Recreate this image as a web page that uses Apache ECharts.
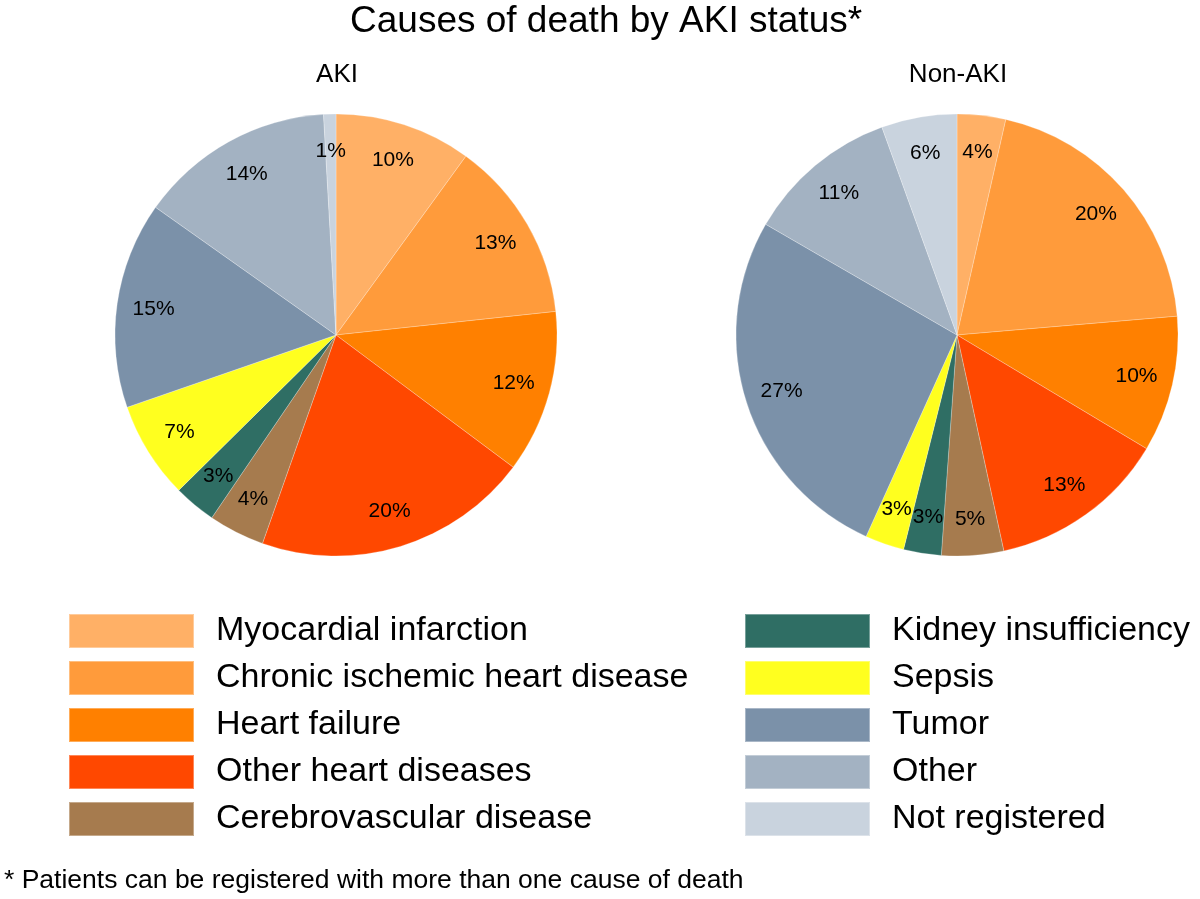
<!DOCTYPE html>
<html><head><meta charset="utf-8">
<script src="https://cdn.jsdelivr.net/npm/echarts@6/dist/echarts.min.js"></script>
<style>html,body{margin:0;padding:0;background:#fff}#chart{width:1200px;height:899px}</style>
</head><body><div id="chart"></div>
<script>
const chartTitle = 'Causes of death by AKI status*';
const panelTitles = ['AKI', 'Non-AKI'];
const footnote = '* Patients can be registered with more than one cause of death';
const categories = ['Myocardial infarction', 'Chronic ischemic heart disease', 'Heart failure',
  'Other heart diseases', 'Cerebrovascular disease', 'Kidney insufficiency', 'Sepsis',
  'Tumor', 'Other', 'Not registered'];
const colors = ['#FFB066', '#FF9B3B', '#FF8000', '#FF4800', '#A67B4E', '#2F6E64', '#FFFF1F',
  '#7B91A9', '#A3B2C2', '#C9D3DE'];
const akiValues = [10.0, 13.3, 11.9, 20.2, 4.1, 3.1, 7.1, 15.1, 14.3, 0.9];
const nonAkiValues = [3.6, 20.4, 10.1, 13.2, 4.6, 2.8, 2.9, 27.0, 11.3, 5.6];

const FONT = '"Liberation Sans", Arial, sans-serif';
const R = 221;

function makeSeries(values, center) {
  const data = categories.map((c, i) => ({ name: c, value: values[i], itemStyle: { color: colors[i] } }));
  return [
    {
      type: 'pie', center: center, radius: R, startAngle: 90, clockwise: true,
      silent: true, animation: false,
      label: { show: false }, labelLine: { show: false },
      itemStyle: { borderColor: 'rgba(255,255,255,0.35)', borderWidth: 0.7 },
      emphasis: { disabled: true },
      data: data
    },
    {
      type: 'pie', center: center, radius: [R * 0.64, R], startAngle: 90, clockwise: true,
      silent: true, animation: false, avoidLabelOverlap: false,
      itemStyle: { color: 'rgba(0,0,0,0)', borderWidth: 0 },
      emphasis: { disabled: true },
      labelLine: { show: false },
      labelLayout: { hideOverlap: false },
      label: {
        show: true, position: 'inside', fontSize: 21, color: '#000', fontFamily: FONT,
        formatter: p => Math.round(p.value) + '%'
      },
      data: categories.map((c, i) => ({ name: c, value: values[i] }))
    }
  ];
}

const legendBase = {
  orient: 'vertical', top: 613, padding: 0, itemWidth: 125, itemHeight: 34, itemGap: 11, icon: 'rect',
  selectedMode: false,
  textStyle: { fontSize: 34, lineHeight: 34, color: '#000', fontFamily: FONT, padding: [0, 0, 0, 17] }
};
const legendItems = categories.map((c, i) => ({ name: c, itemStyle: { color: colors[i] } }));

const chart = echarts.init(document.getElementById('chart'));
chart.setOption({
  backgroundColor: '#fff',
  animation: false,
  title: {
    text: chartTitle, left: 350, top: 3, padding: 0,
    textStyle: { fontSize: 37, fontWeight: 'normal', color: '#000', fontFamily: FONT }
  },
  legend: [
    Object.assign({}, legendBase, { left: 68, data: legendItems.slice(0, 5) }),
    Object.assign({}, legendBase, { left: 744, data: legendItems.slice(5) })
  ],
  graphic: [
    { type: 'text', x: 337, y: 75, style: { text: panelTitles[0], font: '26px ' + FONT, fill: '#000', textAlign: 'center', textVerticalAlign: 'middle' } },
    { type: 'text', x: 958, y: 75, style: { text: panelTitles[1], font: '26px ' + FONT, fill: '#000', textAlign: 'center', textVerticalAlign: 'middle' } },
    { type: 'text', x: 4, y: 881, style: { text: footnote, font: '26.5px ' + FONT, fill: '#000', textAlign: 'left', textVerticalAlign: 'middle' } }
  ],
  series: [].concat(makeSeries(akiValues, [336, 335]), makeSeries(nonAkiValues, [957, 335]))
});
</script></body></html>
